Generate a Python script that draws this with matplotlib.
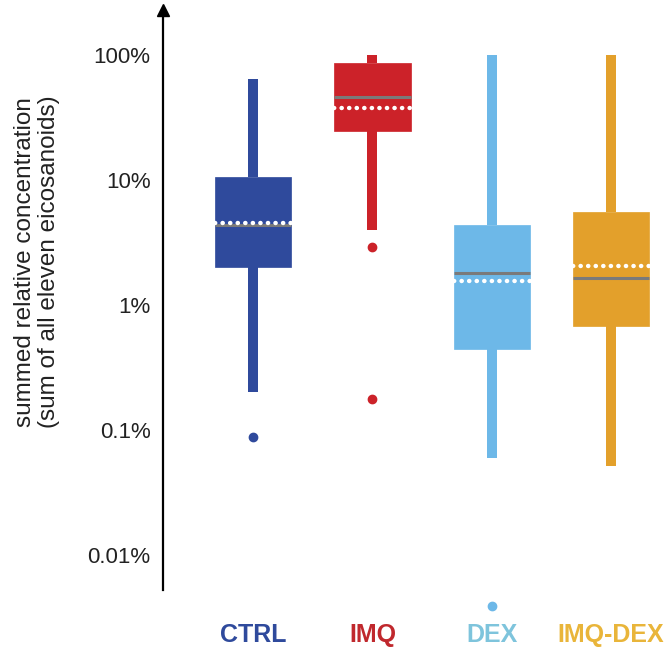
import matplotlib
matplotlib.use("Agg")
import matplotlib.pyplot as plt

# values in percent
groups = ["CTRL", "IMQ", "DEX", "IMQ-DEX"]
box_colors = ["#2f4a9c", "#cc2229", "#6db8e8", "#e3a02b"]
label_colors = ["#2f4a9c", "#c0282d", "#7ec4dc", "#e9b53a"]
whis_lo = [0.20, 4.0, 0.060, 0.052]
q1 = [2.01, 24.7, 0.445, 0.68]
med = [4.4, 46.0, 1.80, 1.64]
mean = [4.5, 37.7, 1.56, 2.05]
q3 = [10.5, 86.0, 4.37, 5.5]
whis_hi = [64.0, 100.0, 100.0, 100.0]
outliers = [[0.088], [2.9, 0.177], [0.0039], []]

yticks = [0.01, 0.1, 1, 10, 100]
yticklabels = ["0.01%", "0.1%", "1%", "10%", "100%"]

plt.rcParams['font.family'] = ['Liberation Sans', 'DejaVu Sans']

fig = plt.figure(figsize=(6.67, 6.5), dpi=100)
ax = fig.add_axes([0.2444, 0.0923, 0.7556, 0.8923])

pos = [1, 2, 3, 4]
for i in range(4):
    st = [{'whislo': whis_lo[i], 'q1': q1[i], 'med': med[i], 'mean': mean[i],
           'q3': q3[i], 'whishi': whis_hi[i], 'fliers': outliers[i]}]
    c = box_colors[i]
    parts = ax.bxp(st, positions=[pos[i]], widths=0.64, patch_artist=True,
                   showmeans=True, meanline=True, showcaps=False,
                   boxprops=dict(facecolor=c, edgecolor=c, linewidth=0.5),
                   whiskerprops=dict(color=c, linewidth=7.2, solid_capstyle='butt'),
                   medianprops=dict(color='#7a7a7a', linewidth=2.2, solid_capstyle='butt'),
                   meanprops=dict(color='white', linewidth=3.2, linestyle=(0, (0.05, 1.65)),
                                  dash_capstyle='round'),
                   flierprops=dict(marker='o', markerfacecolor=c, markeredgecolor=c,
                                   markersize=6, linestyle='none'),
                   zorder=3)
    for f in parts['fliers']:
        f.set_clip_on(False)

ax.set_yscale('log')
ax.set_ylim(0.00525, 229)
ax.set_xlim(0.244, 4.47)
ax.set_yticks(yticks)
ax.set_yticklabels(yticklabels, fontsize=16, color='#222222')
ax.minorticks_off()
ax.tick_params(axis='y', length=0, pad=9)
ax.set_xticks([])

for s in ['top', 'right', 'bottom']:
    ax.spines[s].set_visible(False)
ax.spines['left'].set_linewidth(1.6)
ax.plot(0, 1, marker='^', color='black', markersize=8, transform=ax.transAxes,
        clip_on=False)

for i in range(4):
    fig.text(ax.transData.transform((pos[i], 1))[0] / fig.dpi / 6.67, 1 - 635 / 650,
             groups[i], color=label_colors[i], fontsize=18, fontweight='bold',
             ha='center', va='center')

fig.text(37 / 667, 1 - 262 / 650,
         "summed relative concentration\n(sum of all eleven eicosanoids)",
         rotation=90, fontsize=17.5, color='#222222', ha='center', va='center',
         linespacing=1.15)

fig.savefig("out.png", dpi=100)
